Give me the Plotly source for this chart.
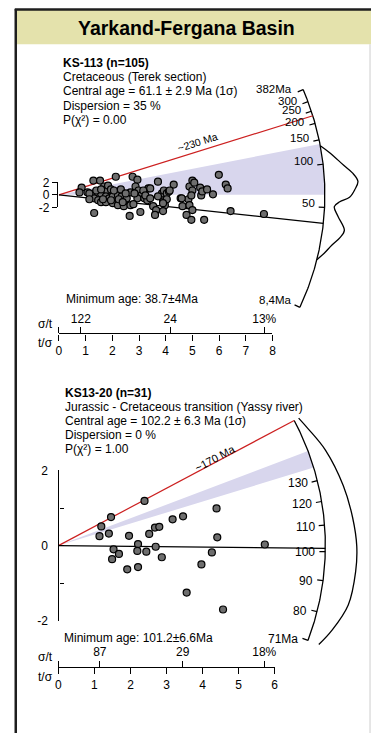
import math
import numpy as np
import plotly.graph_objects as go

W, H = 375, 740
FONT = "Liberation Sans, Arial, sans-serif"

# ---------------- DATA ----------------
# Panel 1: KS-113 radial plot points (x = t/sigma, y = standardised estimate)
p1_x = [0.85, 0.77, 1.07, 1.29, 1.54, 1.32, 1.47, 1.58, 1.32, 1.47, 1.58, 1.69, 1.80, 1.84, 1.95,
        1.76, 1.88, 2.02, 2.21, 1.76, 2.02, 2.21, 2.43, 2.13, 2.06, 2.35, 2.32, 1.32, 1.14, 1.65,
        2.68, 2.65, 2.68, 2.76, 2.94, 2.87, 2.98, 3.09, 2.94, 3.20, 3.31, 3.35, 3.42, 3.05, 3.53,
        3.64, 3.60, 3.71, 3.86, 3.90, 3.97, 3.90, 3.93, 4.04, 4.04, 3.16, 3.24, 2.79, 2.54,
        4.12, 4.30, 4.56, 4.63, 4.85, 4.89, 4.78, 5.00, 4.96, 4.89, 5.00, 5.07, 5.00, 4.96, 5.29,
        5.33, 5.37, 5.44, 5.55, 5.77, 5.99, 6.25, 6.32, 6.43, 7.68,
        3.90, 4.60, 1.40, 1.95, 2.24, 1.58, 2.39, 1.14, 2.50, 2.83, 3.42, 3.71, 4.15]
p1_y = [1.17, 0.39, 0.39, 2.27, 2.27, 0.23, 0.08, 0.23, -0.55, -0.86, -1.17, 1.33, 0.70, 1.48, 0.86,
        -0.23, -0.55, -0.23, -0.08, -1.17, -1.33, -1.64, -1.80, 2.89, 0.70, -0.23, 0.86, -2.89, 0.23, -0.70,
        -1.64, -3.36, 0.39, 2.89, 2.42, 1.33, 0.70, -0.08, -0.55, -0.55, -0.86, 1.02, 1.02, -2.73, -1.80,
        -2.42, -3.20, 2.11, 0.23, -1.02, -1.64, -2.58, 0.70, 0.23, -0.70, 0.70, -0.08, -1.48, -0.55,
        0.55, 1.64, -0.55, -1.80, -0.70, -1.64, -3.20, -2.42, -3.98, 1.33, 2.27, 1.95, 0.70, -0.08, 1.17,
        -0.08, 0.55, -3.98, 0.86, 0.08, 3.20, 1.64, 1.02, -2.58, -3.05,
        -1.33, -0.55, 0.70, -0.86, -0.70, 0.86, -1.17, -0.70, 0.23, 0.23, -0.55, -0.23, 0.70]
p1_central = 61.1
p1_min_age = 38.7
p1_red_age = 230
p1_band = [61.1, 140]
p1_arc_ticks = [382, 300, 250, 200, 150, 100, 50, 8.4]
p1_arc_labels = ["382Ma", "300", "250", "200", "150", "100", "50", "8,4Ma"]
p1_kde_age = [136, 118, 95, 84, 74, 66, 59, 55, 51, 44, 36, 32, 28, 24, 21]
p1_kde_dens = [0.0, 0.25, 0.61, 0.85, 1.0, 0.9, 0.74, 0.45, 0.29, 0.42, 0.65, 0.55, 0.35, 0.17, 0.0]
p1_tsig_ticks = [0, 1, 2, 3, 4, 5, 6, 7, 8]
p1_sigt_vals = [122, 24, 13]
p1_sigt_labels = ["122", "24", "13%"]
p1_text = ["<b>KS-113 (n=105)</b>", "Cretaceous (Terek section)",
           "Central age = 61.1 ± 2.9 Ma (1σ)", "Dispersion = 35 %", "P(χ²) = 0.00"]
p1_minlabel = "Minimum age: 38.7±4Ma"

# Panel 2: KS13-20
p2_x = [1.14, 1.19, 1.46, 1.40, 1.53, 1.49, 1.68, 1.91, 1.96, 2.21, 2.19, 2.21, 2.39, 2.44,
        2.52, 2.68, 2.80, 2.70, 2.87, 3.17, 3.46, 3.56, 3.97, 4.26, 4.39, 4.41, 4.57, 5.73]
p2_y = [0.25, 0.51, 0.76, 0.32, -0.10, -0.36, -0.22, -0.63, 0.26, 0.04, -0.14, -0.57, 1.19, -0.16,
        0.31, 0.48, 0.50, -0.03, -0.31, 0.70, 0.78, -1.25, -0.50, -0.18, 0.99, 0.22, -1.70, 0.03]
p2_central = 102.2
p2_min_age = 101.2
p2_red_age = 170
p2_band = [137, 147]
p2_arc_ticks = [130, 120, 110, 100, 90, 80, 71]
p2_arc_labels = ["130", "120", "110", "100", "90", "80", "71Ma"]
p2_arc_span = [71, 170]
p2_kde_age = [170, 160, 144, 125, 112, 102, 94, 84, 76, 71]
p2_kde_dens = [0.16, 0.28, 0.53, 0.77, 0.91, 1.0, 1.0, 0.92, 0.62, 0.37]
p2_tsig_ticks = [0, 1, 2, 3, 4, 5, 6]
p2_sigt_vals = [87, 29, 17.5]
p2_sigt_labels = ["87", "29", "18%"]
p2_text = ["<b>KS13-20 (n=31)</b>", "Jurassic - Cretaceous transition (Yassy river)",
           "Central age = 102.2 ± 6.3 Ma (1σ)", "Dispersion = 0 %", "P(χ²) = 1.00"]
p2_minlabel = "Minimum age: 101.2±6.6Ma"

title = "Yarkand-Fergana Basin"

# ---------------- GEOMETRY (layout only) ----------------
G1 = dict(ox=57, oy=191.5, sx=27.2, sy=6.4, R=271, t0=p1_central, top=40, bot=372,
          kdeh=34, xa="x", ya="y", scale_y=332.7, tmax=8, bracket="y2", sxa="x2", sxt="x3",
          msize=7, lab_r=151, lab_off=9, lab_size=10.5, text_x=59, text_y0=57, min_xy=(62, 298),
          arc_span=[8.4, 382], tick_perp=4, tick_font=11.5)
G2 = dict(ox=56.5, oy=549, sx=36.7, sy=38.3, R=272, t0=p2_central, top=378, bot=738,
          kdeh=32, xa="x4", ya="y3", scale_y=673, tmax=6, bracket="y4", sxa="x5", sxt="x6",
          msize=7, lab_r=183, lab_off=4, lab_size=11, text_x=61, text_y0=393, min_xy=(60, 643),
          arc_span=p2_arc_span, tick_perp=-1, tick_font=12)


def polar(g, t, r, perp=0.0):
    a = math.atan((g["sy"] / g["sx"]) * math.log(t / g["t0"]))
    dx = r * math.cos(a) - perp * math.sin(a)
    dy = r * math.sin(a) + perp * math.cos(a)
    return dx / g["sx"], dy / g["sy"]


def ang_deg(g, t):
    return math.degrees(math.atan((g["sy"] / g["sx"]) * math.log(t / g["t0"])))


fig = go.Figure()
annots = []
layout_axes = {}


def add_panel(g, px_, py_, band, red_age, min_age, ticks, tlabels, kde_a, kde_d,
              tsig, sigt_vals, sigt_labels, texts, minlabel, red_text, yaxis_mode):
    xa, ya = g["xa"], g["ya"]
    common = dict(xaxis=xa, yaxis=ya, hoverinfo="skip", showlegend=False)
    # band wedge
    ages = np.geomspace(band[0], band[1], 40)
    bx = [0.0] + [polar(g, t, g["R"])[0] for t in ages] + [0.0]
    by = [0.0] + [polar(g, t, g["R"])[1] for t in ages] + [0.0]
    fig.add_trace(go.Scatter(x=bx, y=by, mode="lines", fill="toself",
                             fillcolor="rgb(216,214,237)", line=dict(width=0), **common))
    # arc
    ages = np.geomspace(g["arc_span"][0], g["arc_span"][1], 200)
    fig.add_trace(go.Scatter(x=[polar(g, t, g["R"])[0] for t in ages],
                             y=[polar(g, t, g["R"])[1] for t in ages],
                             mode="lines", line=dict(color="black", width=1.3), **common))
    # arc ticks
    tx, ty = [], []
    for t in ticks:
        a0 = polar(g, t, g["R"])
        a1 = polar(g, t, g["R"] - 6)
        tx += [a0[0], a1[0], None]
        ty += [a0[1], a1[1], None]
    fig.add_trace(go.Scatter(x=tx, y=ty, mode="lines", line=dict(color="black", width=1.2), **common))
    for t, lab in zip(ticks, tlabels):
        lx, ly = polar(g, t, g["R"] - 8, g["tick_perp"])
        annots.append(dict(x=lx, y=ly, xref=xa, yref=ya, text=lab, showarrow=False,
                           xanchor="right", yanchor="middle",
                           font=dict(family=FONT, size=g["tick_font"], color="black")))
    # KDE
    kx = [polar(g, t, g["R"] + d * g["kdeh"])[0] for t, d in zip(kde_a, kde_d)]
    ky = [polar(g, t, g["R"] + d * g["kdeh"])[1] for t, d in zip(kde_a, kde_d)]
    fig.add_trace(go.Scatter(x=kx, y=ky, mode="lines",
                             line=dict(color="black", width=1.3, shape="spline", smoothing=1.0),
                             **common))
    # red line
    rx, ry = polar(g, red_age, g["R"])
    fig.add_trace(go.Scatter(x=[0, rx], y=[0, ry], mode="lines",
                             line=dict(color="rgb(204,32,32)", width=1.2), **common))
    lx, ly = polar(g, red_age, g["lab_r"], g["lab_off"])
    annots.append(dict(x=lx, y=ly, xref=xa, yref=ya, text=red_text, showarrow=False,
                       textangle=-ang_deg(g, red_age), xanchor="center", yanchor="middle",
                       font=dict(family=FONT, size=g["lab_size"], color="black")))
    # min age line
    mx, my = polar(g, min_age, g["R"])
    fig.add_trace(go.Scatter(x=[0, mx], y=[0, my], mode="lines",
                             line=dict(color="black", width=1.2), **common))
    # points
    fig.add_trace(go.Scatter(x=px_, y=py_, mode="markers",
                             marker=dict(size=g["msize"], color="rgb(110,110,110)",
                                         line=dict(color="black", width=1.2)), **common))

    # main axes ranges
    xi = xa.replace("x", "")
    yi = ya.replace("y", "")
    layout_axes["xaxis" + xi] = dict(domain=[0, 1], range=[-g["ox"] / g["sx"], (W - g["ox"]) / g["sx"]],
                                     visible=False, anchor=ya, fixedrange=True)
    layout_axes["yaxis" + yi] = dict(domain=[1 - g["bot"] / H, 1 - g["top"] / H],
                                     range=[(g["oy"] - g["bot"]) / g["sy"], (g["oy"] - g["top"]) / g["sy"]],
                                     visible=False, anchor=xa, fixedrange=True)

    # scale axes (t/sigma bottom, sigma/t top)
    dom = [g["ox"] / W, (g["ox"] + g["tmax"] * g["sx"]) / W]
    pos = 1 - g["scale_y"] / H
    sxa, sxt = g["sxa"], g["sxt"]
    tickfont = dict(family=FONT, size=12, color="black")
    layout_axes["xaxis" + sxa[1:]] = dict(domain=dom, range=[0, g["tmax"]], anchor="free", position=pos,
                                          side="bottom", showline=True, linecolor="black", linewidth=1.3,
                                          ticks="outside", ticklen=6, tickwidth=1.3, tickcolor="black",
                                          tickvals=tsig, ticktext=[str(v) for v in tsig],
                                          tickfont=tickfont, showgrid=False, zeroline=False,
                                          fixedrange=True)
    layout_axes["xaxis" + sxt[1:]] = dict(overlaying=sxa, range=[0, g["tmax"]], anchor="free", position=pos,
                                          side="top", showline=False, ticks="outside", ticklen=6,
                                          tickwidth=1.3, tickcolor="black",
                                          tickvals=[0] + [100.0 / v for v in sigt_vals],
                                          ticktext=[""] + sigt_labels, tickfont=tickfont,
                                          showgrid=False, zeroline=False, fixedrange=True)
    fig.add_trace(go.Scatter(x=[None], y=[None], xaxis=sxa, yaxis=ya, mode="lines", showlegend=False))
    fig.add_trace(go.Scatter(x=[None], y=[None], xaxis=sxt, yaxis=ya, mode="lines", showlegend=False))
    annots.append(dict(x=53 / W, y=pos + 10 / H, xref="paper", yref="paper", text="σ/t", showarrow=False,
                       xanchor="right", yanchor="middle", font=tickfont))
    annots.append(dict(x=53 / W, y=pos - 10 / H, xref="paper", yref="paper", text="t/σ", showarrow=False,
                       xanchor="right", yanchor="middle", font=tickfont))

    # y axis (standardised estimate)
    br = g["bracket"]
    ydom = [1 - (g["oy"] + 2 * g["sy"]) / H, 1 - (g["oy"] - 2 * g["sy"]) / H]
    if yaxis_mode == "bracket":
        yax = dict(domain=ydom, range=[-2, 2], anchor="free", position=55 / W, side="left",
                   showline=True, linecolor="black", linewidth=1.3, ticks="outside", ticklen=5,
                   tickwidth=1.3, tickcolor="black", tickvals=[-2, 0, 2], ticktext=["-2", "0", "2"],
                   tickfont=tickfont, showgrid=False, zeroline=False, fixedrange=True)
    else:
        yax = dict(domain=ydom, range=[-2, 2], anchor="free", position=g["ox"] / W, side="left",
                   showline=True, linecolor="black", linewidth=1.3, ticks="inside", ticklen=4,
                   tickwidth=1.3, tickcolor="black", tickvals=[-2, -1, 0, 1, 2],
                   ticktext=["-2", "", "0", "", "2"], ticklabelstandoff=8,
                   tickfont=tickfont, showgrid=False, zeroline=False, fixedrange=True)
    layout_axes["yaxis" + br[1:]] = yax
    fig.add_trace(go.Scatter(x=[None], y=[None], xaxis=xa, yaxis=br, mode="lines", showlegend=False))

    # text block
    for i, t in enumerate(texts):
        annots.append(dict(x=g["text_x"] / W, y=1 - (g["text_y0"] + 14.5 * i) / H, xref="paper", yref="paper",
                           text=t, showarrow=False, xanchor="left", yanchor="middle",
                           font=dict(family=FONT, size=12, color="black")))
    annots.append(dict(x=g["min_xy"][0] / W, y=1 - g["min_xy"][1] / H, xref="paper", yref="paper",
                       text=minlabel, showarrow=False, xanchor="left", yanchor="middle",
                       font=dict(family=FONT, size=12, color="black")))


add_panel(G1, p1_x, p1_y, p1_band, p1_red_age, p1_min_age, p1_arc_ticks, p1_arc_labels,
          p1_kde_age, p1_kde_dens, p1_tsig_ticks, p1_sigt_vals, p1_sigt_labels, p1_text,
          p1_minlabel, "~230 Ma", "bracket")
add_panel(G2, p2_x, p2_y, p2_band, p2_red_age, p2_min_age, p2_arc_ticks, p2_arc_labels,
          p2_kde_age, p2_kde_dens, p2_tsig_ticks, p2_sigt_vals, p2_sigt_labels, p2_text,
          p2_minlabel, "~170 Ma", "full")

# header & frame
shapes = [
    dict(type="rect", xref="paper", yref="paper", x0=13 / W, x1=1, y0=1 - 38 / H, y1=1 - 3 / H,
         fillcolor="rgb(228,226,172)", line=dict(width=0), layer="below"),
    dict(type="line", xref="paper", yref="paper", x0=12 / W, x1=1, y0=1 - 2.5 / H, y1=1 - 2.5 / H,
         line=dict(color="rgb(30,30,30)", width=2.5)),
    dict(type="line", xref="paper", yref="paper", x0=13 / W, x1=13 / W, y0=0, y1=1 - 2 / H,
         line=dict(color="rgb(30,30,30)", width=2.5)),
    dict(type="line", xref="paper", yref="paper", x0=374 / W, x1=374 / W, y0=0, y1=1 - 38 / H,
         line=dict(color="rgb(205,205,205)", width=1)),
]
annots.append(dict(x=187 / W, y=1 - 21 / H, xref="paper", yref="paper", text="<b>" + title + "</b>",
                   showarrow=False, xanchor="center", yanchor="middle",
                   font=dict(family=FONT, size=19.5, color="black")))

fig.update_layout(width=W, height=H, margin=dict(l=0, r=0, t=0, b=0),
                  paper_bgcolor="white", plot_bgcolor="rgba(0,0,0,0)",
                  showlegend=False, annotations=annots, shapes=shapes, **layout_axes)

fig.write_html("out.html")
